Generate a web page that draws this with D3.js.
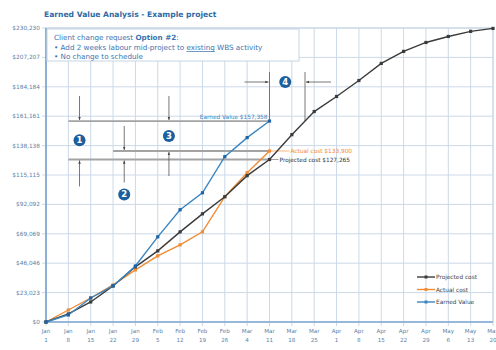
<!DOCTYPE html>
<html><head><meta charset="utf-8">
<script src="https://cdn.jsdelivr.net/npm/d3@7"></script>
<style>body{margin:0;background:#fff}svg{display:block}text{font-family:"DejaVu Sans",sans-serif}</style>
</head><body><svg id="c" width="496" height="350"></svg>
<script>
const weeks = ["Jan 1","Jan 8","Jan 15","Jan 22","Jan 29","Feb 5","Feb 12","Feb 19","Feb 26","Mar 4","Mar 11","Mar 18","Mar 25","Apr 1","Apr 8","Apr 15","Apr 22","Apr 29","May 6","May 13","May 20"];
const projected = [0,6300,15700,28250,43200,55700,70600,84700,98100,114600,127265,146700,164800,176600,189100,202500,211900,218900,223600,227600,229900];
const actual = [0,9400,18800,29000,40800,51800,60400,70600,98100,116900,133900];
const earned = [0,5500,18800,28250,43900,66700,87900,101200,129500,144400,157358];
const yTicks = [0,23023,46046,69069,92092,115115,138138,161161,184184,207207,230230];
const seriesNames = ["Projected cost","Actual cost","Earned Value"];
const colors = {"Projected cost":"#3b3b3b","Actual cost":"#f08c34","Earned Value":"#3a86c2"};

const svg = d3.select("#c");
const L=46,R=493,T=28,B=322;
const x = d3.scalePoint().domain(weeks).range([L,R]);
const y = d3.scaleLinear().domain([0,230230]).range([B,T]);
const fmt = v => "$" + d3.format(",")(v);

// grid
const g = svg.append("g");
g.selectAll(".vg").data(weeks).join("line").attr("x1",d=>x(d)).attr("x2",d=>x(d)).attr("y1",T).attr("y2",B+4)
  .attr("stroke","#cbd9e7").attr("stroke-width",1);
g.selectAll(".hg").data(yTicks).join("line").attr("x1",L-4).attr("x2",R).attr("y1",d=>y(d)).attr("y2",d=>y(d))
  .attr("stroke","#cbd9e7").attr("stroke-width",1);
g.append("rect").attr("x",L).attr("y",T).attr("width",R-L).attr("height",B-T).attr("fill","none").attr("stroke","#c4d6e8");
// axes
g.append("line").attr("x1",L).attr("x2",L).attr("y1",T).attr("y2",B).attr("stroke","#5b8fc4").attr("stroke-width",1.2);
g.append("line").attr("x1",L).attr("x2",R).attr("y1",B).attr("y2",B).attr("stroke","#5b8fc4").attr("stroke-width",1.2);
g.selectAll(".yl").data(yTicks).join("text").attr("x",L-6).attr("y",d=>y(d)+2).attr("text-anchor","end")
  .attr("font-size",5.8).attr("fill","#5a7fa6").text(fmt);
weeks.forEach(w=>{
  const [m,dd]=w.split(" ");
  const t=g.append("text").attr("text-anchor","middle").attr("font-size",5.6).attr("fill","#5a7fa6");
  t.append("tspan").attr("x",x(w)).attr("y",B+11).text(m);
  t.append("tspan").attr("x",x(w)).attr("y",B+20).text(dd);
});

// title
svg.append("text").attr("x",44).attr("y",17).attr("font-size",7.6).attr("font-weight","bold").attr("fill","#2f6aa5")
  .text("Earned Value Analysis - Example project");

// note box
svg.append("rect").attr("x",47).attr("y",29).attr("width",252).attr("height",32).attr("fill","#fff").attr("stroke","#c4d4e4");
const nt = svg.append("g").attr("font-size",7.2).attr("fill","#3a74b0");
const t1 = nt.append("text").attr("x",54).attr("y",40);
t1.append("tspan").text("Client change request ");
t1.append("tspan").attr("font-weight","bold").text("Option #2");
t1.append("tspan").text(":");
const t2 = nt.append("text").attr("x",54).attr("y",50);
t2.append("tspan").text("• Add 2 weeks labour mid-project to ");
t2.append("tspan").attr("text-decoration","underline").text("existing");
t2.append("tspan").text(" WBS activity");
nt.append("text").attr("x",54).attr("y",59).text("• No change to schedule");

// annotations
const ann = svg.append("g");
const last = weeks[10];
const evY = y(earned[10]), acY = y(actual[10]), prY = y(projected[10]);
const gray = "#a3a3a3";
ann.append("line").attr("x1",x(weeks[1])).attr("x2",x(last)).attr("y1",evY).attr("y2",evY).attr("stroke",gray).attr("stroke-width",1.8);
ann.append("line").attr("x1",x(weeks[1])).attr("x2",x(last)).attr("y1",prY).attr("y2",prY).attr("stroke",gray).attr("stroke-width",1.8);
ann.append("line").attr("x1",x(weeks[3])).attr("x2",x(last)).attr("y1",acY).attr("y2",acY).attr("stroke",gray).attr("stroke-width",1.8);
ann.append("line").attr("x1",x(last)).attr("x2",x(last)+20).attr("y1",acY).attr("y2",acY).attr("stroke","#f5b77e").attr("stroke-width",1);
ann.append("line").attr("x1",x(last)).attr("x2",x(last)+9).attr("y1",prY).attr("y2",prY).attr("stroke",gray).attr("stroke-width",1);

// schedule variance x where projected reaches EV value
let svX=null;
for(let i=1;i<projected.length;i++){ if(projected[i]>=earned[10]){ const f=(earned[10]-projected[i-1])/(projected[i]-projected[i-1]); svX=x(weeks[i-1])+f*(x(weeks[i])-x(weeks[i-1])); break; } }
ann.append("line").attr("x1",x(last)).attr("x2",x(last)).attr("y1",72).attr("y2",evY).attr("stroke","#6a6a6a").attr("stroke-width",0.9);
ann.append("line").attr("x1",svX).attr("x2",svX).attr("y1",72).attr("y2",evY).attr("stroke","#6a6a6a").attr("stroke-width",0.9);

svg.append("defs").append("marker").attr("id","ah").attr("viewBox","0 0 10 10").attr("refX",10).attr("refY",5)
  .attr("markerWidth",4).attr("markerHeight",4).attr("orient","auto")
  .append("path").attr("d","M0,1 L10,5 L0,9 Z").attr("fill","#444");
function arrow(x1,y1,x2,y2){ ann.append("line").attr("x1",x1).attr("y1",y1).attr("x2",x2).attr("y2",y2)
  .attr("stroke","#555").attr("stroke-width",0.8).attr("marker-end","url(#ah)"); }
const mid=(a,b)=>(x(weeks[a])+x(weeks[b]))/2;
const a1=mid(1,2), a2=mid(3,4), a3=mid(5,6);
arrow(a1,evY-25,a1,evY-1); arrow(a1,prY+27,a1,prY+1);
arrow(a2,acY-25,a2,acY-1); arrow(a2,prY+23,a2,prY+1);
arrow(a3,evY-25,a3,evY-1); arrow(a3,acY+25,a3,acY+1);
arrow(x(last)-25,82,x(last)-1,82); arrow(svX+26,82,svX+1,82);
function badge(cx,cy,n){ ann.append("circle").attr("cx",cx).attr("cy",cy).attr("r",6).attr("fill","#1d5f9e");
  ann.append("text").attr("x",cx).attr("y",cy+3).attr("text-anchor","middle").attr("font-size",8.5).attr("font-weight","bold").attr("fill","#fff").text(n); }
badge(a1,(evY+prY)/2,"1"); badge(a2,prY+35,"2"); badge(a3,(evY+acY)/2,"3"); badge((x(last)+svX)/2-2,82,"4");

// series
const data = {"Projected cost":projected,"Actual cost":actual,"Earned Value":earned};
const line = d3.line().x((d,i)=>x(weeks[i])).y(d=>y(d));
["Actual cost","Projected cost","Earned Value"].forEach(n=>{
  const s=svg.append("g");
  s.append("path").datum(data[n]).attr("d",line).attr("fill","none").attr("stroke",colors[n]).attr("stroke-width",1.4);
  s.selectAll("rect").data(data[n]).join("rect").attr("x",(d,i)=>x(weeks[i])-1.6).attr("y",d=>y(d)-1.6)
    .attr("width",3.2).attr("height",3.2).attr("fill",n==="Earned Value"?"#1f64a8":colors[n]);
});

// value labels
svg.append("text").attr("x",x(last)-2).attr("y",evY-2.5).attr("text-anchor","end").attr("font-size",5.8).attr("fill","#3a86c2").text("Earned Value "+fmt(earned[10]));
svg.append("text").attr("x",x(last)+21).attr("y",acY+2).attr("font-size",5.8).attr("fill","#f08c34").text("Actual cost "+fmt(actual[10]));
svg.append("text").attr("x",x(last)+10).attr("y",prY+2.5).attr("font-size",5.8).attr("fill","#333").text("Projected cost "+fmt(projected[10]));

// legend
const lg = svg.append("g");
seriesNames.forEach((n,i)=>{
  const yy=277+i*12.5;
  lg.append("line").attr("x1",417).attr("x2",435).attr("y1",yy).attr("y2",yy).attr("stroke",colors[n]).attr("stroke-width",1.4);
  lg.append("rect").attr("x",424.5).attr("y",yy-1.5).attr("width",3).attr("height",3).attr("fill",colors[n]);
  lg.append("text").attr("x",436).attr("y",yy+2).attr("font-size",5.8).attr("fill","#444").text(n);
});
</script></body></html>
